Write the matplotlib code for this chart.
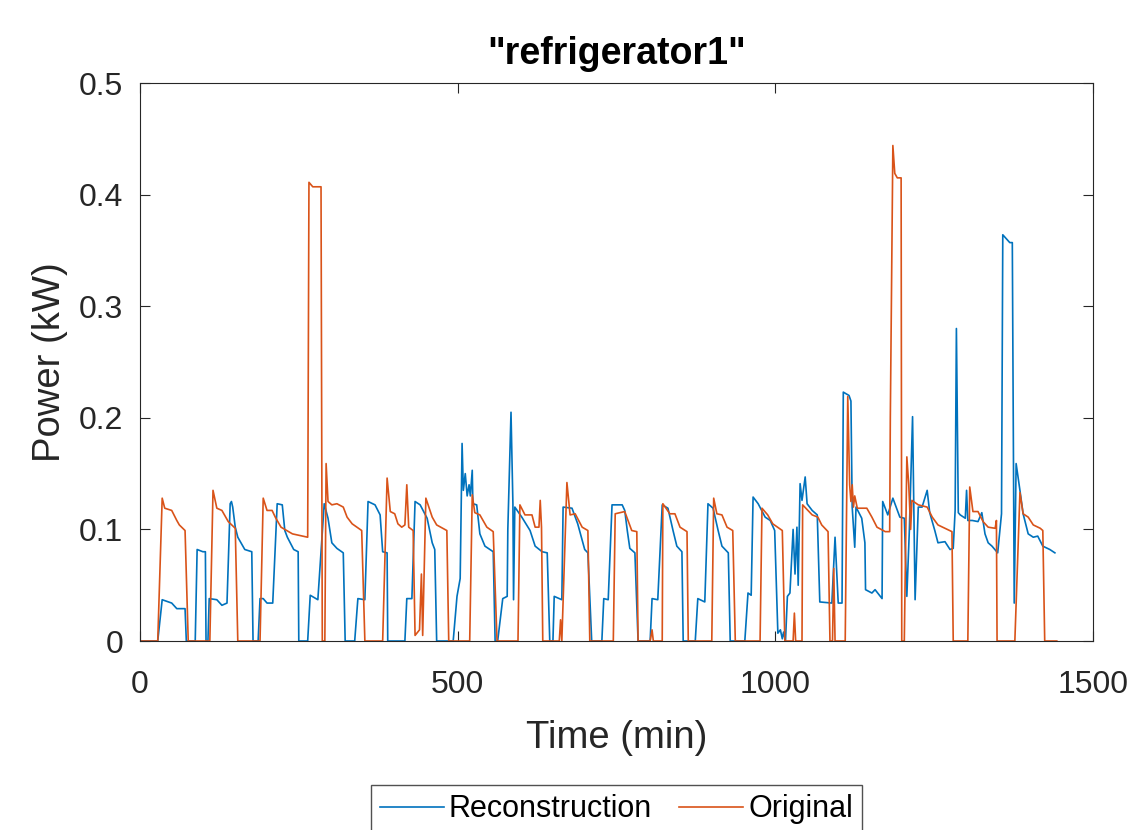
import matplotlib
matplotlib.use("Agg")
import matplotlib.pyplot as plt

plt.rcParams["font.family"] = ["Liberation Sans", "DejaVu Sans"]

title = '"refrigerator1"'
x_label = "Time (min)"
y_label = "Power (kW)"
x_ticks = [0, 500, 1000, 1500]
y_ticks = [0, 0.1, 0.2, 0.3, 0.4, 0.5]
y_tick_labels = ["0", "0.1", "0.2", "0.3", "0.4", "0.5"]

# reconstruction (blue)
recon_t = [0, 28, 35, 50, 58, 71, 73, 87, 90, 99, 103, 104, 107, 109, 121, 129, 137,
           142, 144, 146, 150, 154, 165, 176, 178, 186, 189, 194, 200, 209, 216, 224,
           228, 232, 242, 249, 250, 264, 268, 280, 290, 296, 302, 310, 320, 323, 338,
           343, 354, 359, 370, 378, 382, 389, 390, 417, 420, 428, 433, 441, 452, 460,
           464, 467, 493, 499, 504, 507, 509, 512, 515, 518, 520, 523, 524, 530, 535,
           543, 556, 559, 563, 571, 578, 579, 584, 587, 588, 590, 601, 614, 622, 633,
           641, 645, 650, 652, 664, 666, 680, 689, 700, 705, 711, 727, 730, 737, 743,
           759, 763, 767, 771, 779, 784, 803, 806, 815, 822, 831, 839, 845, 853, 855,
           874, 878, 889, 894, 902, 910, 916, 926, 929, 952, 957, 962, 965, 973, 984,
           992, 999, 1004, 1008, 1011, 1013, 1016, 1019, 1023, 1028, 1031, 1034, 1036,
           1039, 1042, 1047, 1050, 1058, 1066, 1067, 1070, 1089, 1094, 1099, 1105,
           1107, 1116, 1119, 1121, 1125, 1127, 1136, 1141, 1142, 1152, 1157, 1168,
           1169, 1177, 1185, 1196, 1203, 1207, 1211, 1216, 1220, 1225, 1231, 1239,
           1243, 1251, 1256, 1267, 1275, 1280, 1283, 1285, 1288, 1291, 1299, 1301,
           1303, 1310, 1319, 1325, 1330, 1335, 1341, 1350, 1356, 1358, 1369, 1373,
           1376, 1379, 1385, 1390, 1398, 1406, 1413, 1421, 1432, 1440]
recon_p = [0, 0, 0.037, 0.034, 0.029, 0.029, 0, 0, 0.082, 0.080, 0.080, 0, 0, 0.038,
           0.037, 0.032, 0.034, 0.123, 0.125, 0.120, 0.102, 0.093, 0.082, 0.080, 0, 0,
           0.038, 0.038, 0.034, 0.034, 0.123, 0.122, 0.099, 0.093, 0.082, 0.080, 0, 0,
           0.041, 0.037, 0.123, 0.110, 0.088, 0.083, 0.079, 0, 0, 0.038, 0.037, 0.125,
           0.122, 0.113, 0.080, 0.079, 0, 0, 0.038, 0.038, 0.125, 0.122, 0.110, 0.088,
           0.082, 0, 0, 0.040, 0.056, 0.177, 0.135, 0.150, 0.130, 0.140, 0.130, 0.153,
           0.123, 0.122, 0.096, 0.085, 0.080, 0, 0, 0.038, 0.040, 0.100, 0.205, 0.123,
           0.037, 0.120, 0.111, 0.099, 0.085, 0.080, 0.079, 0, 0, 0.040, 0.037, 0.120,
           0.119, 0.105, 0.082, 0.079, 0, 0, 0.038, 0.037, 0.122, 0.122, 0.117, 0.099,
           0.083, 0.079, 0, 0, 0.038, 0.037, 0.122, 0.119, 0.099, 0.085, 0.080, 0, 0,
           0.038, 0.035, 0.123, 0.119, 0.099, 0.085, 0.079, 0, 0, 0.043, 0.041, 0.129,
           0.123, 0.111, 0.108, 0.099, 0.007, 0.010, 0.002, 0.008, 0, 0.040, 0.043,
           0.100, 0.060, 0.102, 0.050, 0.141, 0.126, 0.147, 0.123, 0.117, 0.113, 0.093,
           0.035, 0.034, 0.093, 0.034, 0.034, 0.223, 0.220, 0.215, 0.120, 0.084, 0.120,
           0.110, 0.088, 0.046, 0.043, 0.046, 0.038, 0.125, 0.113, 0.128, 0.111, 0.110,
           0.040, 0.100, 0.201, 0.037, 0.120, 0.120, 0.135, 0.115, 0.099, 0.088, 0.089,
           0.082, 0.083, 0.117, 0.280, 0.115, 0.113, 0.110, 0.135, 0.108, 0.108, 0.107,
           0.115, 0.096, 0.088, 0.085, 0.079, 0.114, 0.364, 0.357, 0.357, 0.034, 0.159,
           0.135, 0.114, 0.096, 0.093, 0.094, 0.085, 0.082, 0.079]

# original (orange)
orig_t = [0, 28, 35, 39, 50, 58, 62, 71, 76, 110, 115, 121, 129, 139, 150, 154, 189,
          194, 200, 208, 213, 222, 240, 264, 266, 272, 285, 287, 291, 293, 296, 302,
          310, 320, 326, 334, 349, 354, 382, 389, 394, 401, 406, 412, 417, 420, 423,
          430, 433, 440, 443, 445, 450, 460, 467, 483, 486, 519, 523, 527, 535, 546,
          556, 562, 595, 598, 606, 617, 622, 628, 630, 632, 634, 660, 662, 664, 672,
          677, 685, 696, 705, 708, 745, 748, 763, 774, 782, 784, 803, 806, 808, 822,
          823, 834, 842, 850, 861, 863, 900, 903, 908, 916, 924, 933, 937, 976, 979,
          988, 996, 1011, 1015, 1028, 1030, 1032, 1042, 1043, 1058, 1067, 1073, 1083,
          1086, 1090, 1092, 1094, 1110, 1114, 1117, 1119, 1121, 1123, 1125, 1129,
          1144, 1152, 1160, 1173, 1180, 1181, 1185, 1188, 1192, 1198, 1199, 1203,
          1207, 1210, 1213, 1215, 1225, 1239, 1247, 1256, 1267, 1278, 1280, 1303,
          1306, 1311, 1319, 1327, 1335, 1346, 1348, 1349, 1377, 1385, 1390, 1398,
          1406, 1417, 1421, 1424, 1443]
orig_p = [0, 0, 0.128, 0.119, 0.117, 0.108, 0.104, 0.099, 0, 0, 0.135, 0.119, 0.117,
          0.107, 0.101, 0, 0, 0.128, 0.117, 0.117, 0.111, 0.102, 0.096, 0.093, 0.411,
          0.407, 0.407, 0, 0, 0.159, 0.125, 0.122, 0.123, 0.120, 0.111, 0.105, 0.099,
          0, 0, 0.146, 0.116, 0.114, 0.105, 0.102, 0.104, 0.140, 0.102, 0.099, 0.005,
          0.010, 0.060, 0.005, 0.128, 0.111, 0.104, 0.099, 0, 0, 0.131, 0.115, 0.113,
          0.102, 0.098, 0, 0, 0.122, 0.113, 0.113, 0.102, 0.102, 0.126, 0.102, 0, 0,
          0.019, 0, 0.142, 0.113, 0.114, 0.102, 0.099, 0, 0, 0.114, 0.116, 0.099,
          0.098, 0, 0, 0.010, 0, 0, 0.123, 0.114, 0.114, 0.102, 0.098, 0, 0, 0.128,
          0.114, 0.113, 0.102, 0.099, 0, 0, 0.119, 0.113, 0.105, 0.099, 0, 0, 0.025, 0,
          0, 0.122, 0.113, 0.111, 0.104, 0.098, 0, 0, 0.065, 0, 0, 0.219, 0.140, 0.125,
          0.140, 0.120, 0.130, 0.119, 0.119, 0.111, 0.102, 0.098, 0.098, 0.200, 0.444,
          0.419, 0.415, 0.415, 0, 0, 0.165, 0.140, 0.100, 0.126, 0.122, 0.120, 0.111,
          0.104, 0.101, 0.098, 0, 0, 0.138, 0.116, 0.116, 0.107, 0.102, 0.101, 0.108,
          0, 0, 0.133, 0.114, 0.111, 0.104, 0.101, 0.099, 0, 0]

fig = plt.figure(figsize=(11.35, 8.3), dpi=100)
ax = fig.add_axes([0.1233, 0.2277, 0.8397, 0.6723])

ax.plot(recon_t, recon_p, color="#0072BD", lw=1.2, label="Reconstruction")
ax.plot(orig_t, orig_p, color="#D95319", lw=1.2, label="Original")

ax.set_xlim(0, 1500)
ax.set_ylim(0, 0.5)
ax.set_xticks(x_ticks)
ax.set_yticks(y_ticks)
ax.set_yticklabels(y_tick_labels)
ax.tick_params(direction="in", length=7, width=0.8, top=True, right=True,
               labelsize=23, colors="#262626")
ax.tick_params(axis="x", pad=21)
ax.tick_params(axis="y", pad=12)
for s in ax.spines.values():
    s.set_color("#262626")
    s.set_linewidth(0.8)

ax.set_xlabel(x_label, fontsize=27.5, color="#262626", labelpad=14)
ax.set_ylabel(y_label, fontsize=27.5, color="#262626", labelpad=8)
ax.set_title(title, fontsize=27, fontweight="bold", pad=14)

fig.legend(loc="upper center", bbox_to_anchor=(0.543, 0.054), ncol=2,
           fontsize=22, frameon=True, fancybox=False, edgecolor="#262626",
           handlelength=2.1, handletextpad=0.15, columnspacing=0.9,
           borderpad=0.3, borderaxespad=0)

fig.savefig("out.png", dpi=100)
